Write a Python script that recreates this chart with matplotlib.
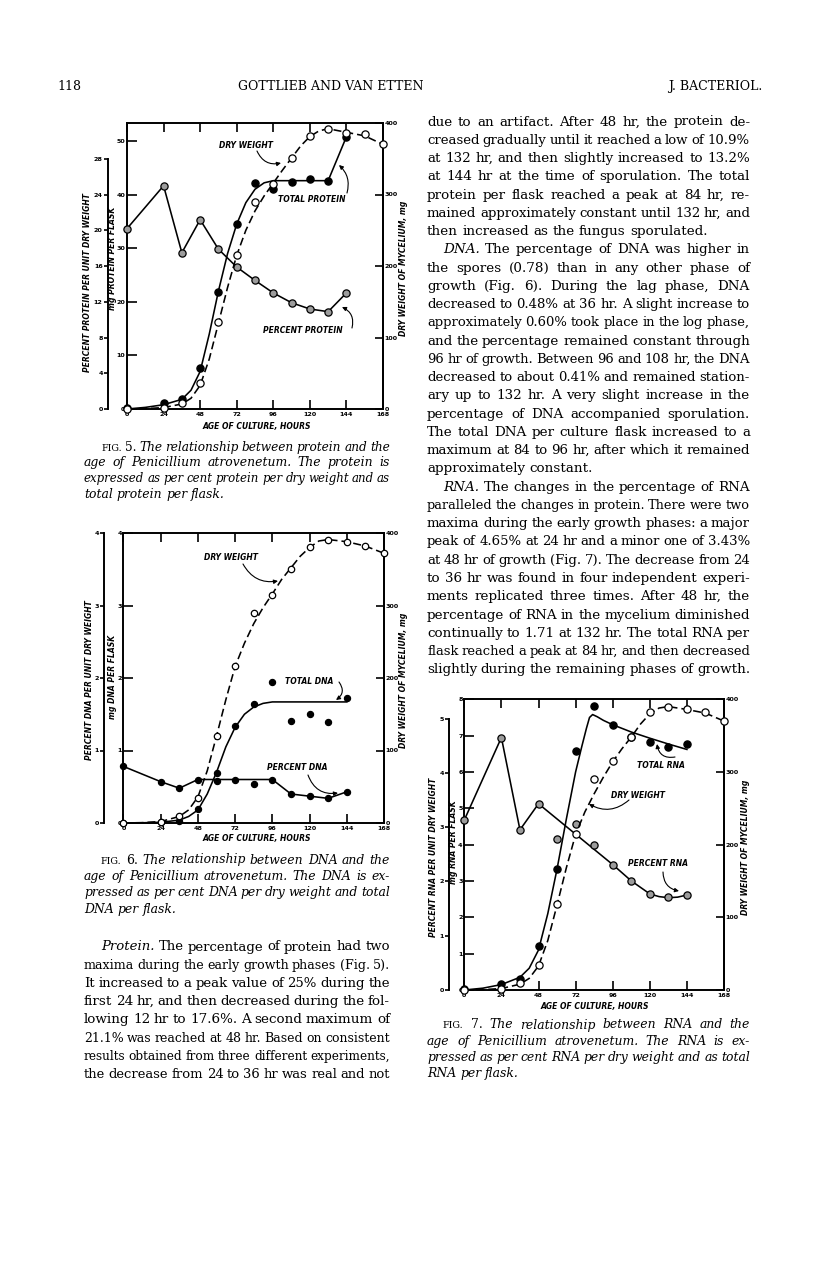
import matplotlib
matplotlib.use('Agg')
import matplotlib.pyplot as plt

W, H = 816, 1264
fig = plt.figure(figsize=(W / 100, H / 100), dpi=100)
fig.patch.set_facecolor('white')
renderer = fig.canvas.get_renderer()

SANS = 'DejaVu Sans'
SERIF = 'DejaVu Serif'

# ---------------------------------------------------------------- data
x_tick_hours = [0, 24, 48, 72, 96, 120, 144, 168]
hours = [0, 24, 36, 48, 60, 72, 84, 96, 108, 120, 132, 144]
dw_hours = [0, 24, 36, 48, 60, 72, 84, 96, 108, 120, 132, 144, 156, 168]
fit_hours = [0, 12, 24, 36, 42, 48, 54, 60, 66, 72, 78, 84, 90, 96, 102, 108,
             114, 120, 126, 132, 144, 156, 168]

# Fig. 5  protein
protein_pct = [20.2, 25.0, 17.5, 21.2, 17.9, 15.9, 14.4, 13.0, 11.9, 11.2, 10.9, 13.0]
protein_total = [0.2, 1.1, 1.9, 7.6, 21.8, 34.6, 42.1, 41.0, 42.3, 42.9, 42.6, 50.8]
protein_fit_hours = [0, 12, 24, 36, 42, 48, 54, 60, 66, 72, 78, 84, 90, 96, 108, 120, 132, 144]
protein_fit = [0, 0.3, 0.8, 1.8, 3.5, 7.0, 14.0, 22.0, 29.0, 34.5, 38.5, 41.0, 42.2,
               42.6, 42.6, 42.6, 42.6, 50.8]
dry_weight_5 = [0, 2, 8, 36, 121, 215, 290, 315, 351, 382, 392, 386, 384, 370]
dry_fit_5 = [0, 0.5, 2, 7, 15, 33, 70, 120, 170, 215, 250, 277, 298, 316, 334, 351,
             368, 381, 389, 392, 387, 382, 370]

# Fig. 6  DNA
dna_pct = [0.78, 0.57, 0.48, 0.59, 0.58, 0.60, 0.54, 0.60, 0.40, 0.37, 0.34, 0.43]
dna_pct_line_hours = [0, 24, 36, 48, 60, 72, 84, 96, 108, 120, 132, 144]
dna_pct_line = [0.78, 0.57, 0.48, 0.60, 0.60, 0.60, 0.60, 0.60, 0.40, 0.37, 0.34, 0.43]
dna_total = [0.0, 0.01, 0.03, 0.20, 0.69, 1.34, 1.64, 1.94, 1.41, 1.50, 1.39, 1.72]
dna_fit_hours = [0, 12, 24, 36, 42, 48, 54, 60, 66, 72, 78, 84, 90, 96, 144]
dna_fit = [0, 0.003, 0.01, 0.04, 0.09, 0.18, 0.40, 0.70, 1.05, 1.32, 1.50, 1.60,
           1.65, 1.67, 1.67]
dry_weight_6 = [0, 2, 10, 35, 120, 216, 290, 314, 350, 381, 391, 388, 382, 372]
dry_fit_6 = [0, 0.5, 2, 9, 18, 36, 72, 120, 170, 216, 248, 275, 297, 316, 336, 352,
             368, 380, 389, 391, 388, 382, 372]

# Fig. 7  RNA
rna_pct = [3.13, 4.65, 2.95, 3.43, 2.78, 3.05, 2.67, 2.31, 2.01, 1.76, 1.71, 1.75]
rna_pct_line_hours = [0, 24, 36, 48, 96, 108, 120, 126, 132, 138, 144]
rna_pct_line = [3.13, 4.65, 2.95, 3.43, 2.31, 2.01, 1.77, 1.72, 1.70, 1.71, 1.75]
rna_total = [0.03, 0.17, 0.31, 1.22, 3.33, 6.58, 7.81, 7.30, 6.95, 6.83, 6.69, 6.77]
rna_fit_hours = [0, 12, 24, 36, 42, 48, 54, 60, 66, 72, 76, 79, 81, 83, 86, 90, 96,
                 108, 120, 132, 144]
rna_fit = [0, 0.05, 0.15, 0.35, 0.6, 1.1, 2.1, 3.33, 4.7, 6.0, 6.7, 7.2, 7.5, 7.58,
           7.52, 7.42, 7.3, 7.1, 6.93, 6.77, 6.62]
dry_weight_7 = [0, 2, 10, 35, 119, 214, 290, 315, 348, 382, 390, 386, 382, 370]
dry_fit_7 = [0, 0.5, 2, 8, 16, 33, 68, 117, 168, 214, 245, 270, 293, 314, 332, 348,
             366, 380, 388, 390, 386, 381, 370]

# ---------------------------------------------------------------- helpers
def fx(x):
    return x / W


def fy(y):
    return 1 - y / H


LAB = dict(family=SANS, style='italic', weight='bold', size=5.5)
TICK_SIZE = 4.6
SPINE_LW = 1.4
LINE_LW = 1.15


def build_axes(L, R, T, B, inner_max, inner_ticks, pct_max, pct_ticks, pct_bound, outer_off):
    ax = fig.add_axes([fx(L), fy(B), (R - L) / W, (B - T) / H])
    ax.set_xlim(0, 168)
    ax.set_ylim(0, inner_max)
    ax.set_xticks(x_tick_hours)
    ax.set_yticks(inner_ticks)
    for s in ax.spines.values():
        s.set_linewidth(SPINE_LW)
    ax.tick_params(axis='x', direction='in', top=True, bottom=True, length=6.5,
                   width=1.2, pad=2.0, labelsize=TICK_SIZE)
    ax.tick_params(axis='y', direction='in', left=True, right=False, length=7,
                   width=1.2, pad=1.2, labelsize=TICK_SIZE)

    ax_p = ax.twinx()
    ax_p.set_ylim(0, pct_max)
    ax_p.yaxis.tick_left()
    ax_p.set_yticks(pct_ticks)
    ax_p.spines['left'].set_visible(True)
    ax_p.spines['left'].set_position(('outward', outer_off))
    ax_p.spines['left'].set_bounds(0, pct_bound)
    ax_p.spines['left'].set_linewidth(SPINE_LW)
    for k in ('right', 'top', 'bottom'):
        ax_p.spines[k].set_visible(False)
    ax_p.tick_params(axis='y', direction='out', length=3, width=1.2, pad=0.8,
                     labelsize=TICK_SIZE)

    ax_d = ax.twinx()
    ax_d.set_ylim(0, 400)
    ax_d.set_yticks([0, 100, 200, 300, 400])
    for k in ('left', 'top', 'bottom'):
        ax_d.spines[k].set_visible(False)
    ax_d.spines['right'].set_linewidth(SPINE_LW)
    ax_d.tick_params(axis='y', direction='in', length=6, width=1.2, pad=1.2,
                     labelsize=TICK_SIZE)

    for a in (ax, ax_p, ax_d):
        for lab in a.get_xticklabels() + a.get_yticklabels():
            lab.set_fontfamily(SANS)
            lab.set_fontweight('bold')
    return ax, ax_p, ax_d


def mark(a, xs, ys, kind, ms=5.2):
    if kind == 'open':
        fc = 'white'
    elif kind == 'gray':
        fc = '#9c9c9c'
    else:
        fc = 'black'
    a.plot(xs, ys, ls='none', marker='o', ms=ms, mfc=fc, mec='black', mew=0.9,
           clip_on=False, zorder=5)


def line(a, xs, ys, dashed=False):
    if dashed:
        a.plot(xs, ys, color='black', lw=LINE_LW, ls=(0, (5, 2.5)), clip_on=False, zorder=3)
    else:
        a.plot(xs, ys, color='black', lw=LINE_LW, clip_on=False, zorder=3)


def label(x, y, s, rot=0, **kw):
    d = dict(LAB)
    d.update(kw)
    fig.text(fx(x), fy(y), s, rotation=rot, ha='center', va='center', **d)


def arrow(sx, sy, tx, ty, rad):
    fig.add_artist(matplotlib.patches.FancyArrowPatch(
        (sx, H - sy), (tx, H - ty), transform=None,
        arrowstyle='-|>', connectionstyle='arc3,rad=%s' % rad,
        mutation_scale=6, lw=0.8, color='black', shrinkA=0, shrinkB=0))


def text_width(s, props):
    t = fig.text(0, 0, s, **props)
    w = t.get_window_extent(renderer).width
    t.remove()
    return w


def draw_line(line_s, x0, x1, ybase, base, justify=True):
    scale = 1.0
    while True:
        toks = []
        for w in line_s.split(' '):
            st = dict(base)
            st['size'] = base['size'] * scale
            if w.startswith('*'):
                w = w[1:]
                st['style'] = 'italic'
            elif w.startswith('~'):
                w = w[1:]
                st['style'] = 'normal'
            elif w.startswith('^'):
                w = w[1:]
                st['style'] = 'normal'
                st['size'] = base['size'] * scale * 0.78
            toks.append((w, st))
        widths = [text_width(w, st) for w, st in toks]
        b2 = dict(base)
        b2['size'] = base['size'] * scale
        space = text_width('n n', b2) - text_width('nn', b2)
        n = len(toks)
        need = sum(widths) + 0.75 * space * (n - 1)
        if need <= (x1 - x0) or scale < 0.8:
            break
        scale *= 0.985
    if justify and n > 1:
        gap = (x1 - x0 - sum(widths)) / (n - 1)
    else:
        gap = space
    x = x0
    for (w, st), wd in zip(toks, widths):
        fig.text(fx(x), fy(ybase), w, ha='left', va='baseline', **st)
        x += wd + gap


def paragraph(lines, x0, x1, y0, dy, base, indent_first=0, last_justify=False):
    for i, s in enumerate(lines):
        xs = x0 + (indent_first if i == 0 else 0)
        draw_line(s, xs, x1, y0 + i * dy, base,
                  justify=(i < len(lines) - 1) or last_justify)


# ---------------------------------------------------------------- Fig. 5
ax, ax_p, ax_d = build_axes(127, 383, 123, 409, 53.36, [0, 10, 20, 30, 40, 50],
                            32.03, [0, 4, 8, 12, 16, 20, 24, 28], 28, 13.7)
line(ax_p, hours, protein_pct)
mark(ax_p, hours, protein_pct, 'gray')
line(ax, protein_fit_hours, protein_fit)
mark(ax, hours, protein_total, 'black')
line(ax_d, fit_hours, dry_fit_5, dashed=True)
mark(ax_d, dw_hours, dry_weight_5, 'open')

label(246, 145, 'DRY WEIGHT')
arrow(257, 151, 281, 163, 0.4)
label(312, 199, 'TOTAL PROTEIN')
arrow(347, 193, 339, 165, 0.3)
label(303, 330, 'PERCENT PROTEIN')
arrow(352, 328, 342, 307, 0.4)
label(88, 282, 'PERCENT PROTEIN PER UNIT DRY WEIGHT', rot=90)
label(112.5, 258, 'mg PROTEIN PER FLASK', rot=90)
label(403.5, 268, 'DRY WEIGHT OF MYCELIUM, mg', rot=90)
label(257, 426, 'AGE OF CULTURE, HOURS')

# ---------------------------------------------------------------- Fig. 6
ax, ax_p, ax_d = build_axes(123.5, 384, 533, 823, 4, [0, 1, 2, 3, 4],
                            4, [0, 1, 2, 3, 4], 4, 14)
line(ax_p, dna_pct_line_hours, dna_pct_line)
mark(ax_p, hours, dna_pct, 'black', ms=4.4)
line(ax, dna_fit_hours, dna_fit)
mark(ax, hours, dna_total, 'black', ms=4.4)
line(ax_d, fit_hours, dry_fit_6, dashed=True)
mark(ax_d, dw_hours, dry_weight_6, 'open', ms=4.6)

label(231, 558, 'DRY WEIGHT')
arrow(243, 564, 278, 581, 0.35)
label(309, 681, 'TOTAL DNA')
arrow(339, 682, 336, 700, -0.5)
label(297, 767, 'PERCENT DNA')
arrow(308, 775, 338, 793, 0.4)
label(89, 680, 'PERCENT DNA PER UNIT DRY WEIGHT', rot=90)
label(112, 677, 'mg DNA PER FLASK', rot=90)
label(403.5, 680, 'DRY WEIGHT OF MYCELIUM, mg', rot=90)
label(257, 838, 'AGE OF CULTURE, HOURS')

# ---------------------------------------------------------------- Fig. 7
ax, ax_p, ax_d = build_axes(464.3, 724, 699.3, 990, 8, [0, 1, 2, 3, 4, 5, 6, 7, 8],
                            5.354, [0, 1, 2, 3, 4, 5], 5, 11)
line(ax_p, rna_pct_line_hours, rna_pct_line)
mark(ax_p, hours, rna_pct, 'gray')
line(ax, rna_fit_hours, rna_fit)
mark(ax, hours, rna_total, 'black')
line(ax_d, fit_hours, dry_fit_7, dashed=True)
mark(ax_d, dw_hours, dry_weight_7, 'open')

label(661, 766, 'TOTAL RNA')
arrow(675, 757, 657, 744, -0.5)
label(638, 795, 'DRY WEIGHT')
arrow(629, 800, 589, 804, -0.35)
label(658, 863, 'PERCENT RNA')
arrow(663, 872, 679, 891, 0.4)
label(433, 857, 'PERCENT RNA PER UNIT DRY WEIGHT', rot=90)
label(453, 842, 'mg RNA PER FLASK', rot=90)
label(746, 847, 'DRY WEIGHT OF MYCELIUM, mg', rot=90)
label(595, 1006, 'AGE OF CULTURE, HOURS')

# ---------------------------------------------------------------- text
BODY = dict(family=SERIF, size=9.7, style='normal')
CAP = dict(family=SERIF, size=8.9, style='italic')
HEAD = dict(family=SERIF, size=9.0)

fig.text(fx(57), fy(90), '118', ha='left', va='baseline', **HEAD)
fig.text(fx(331), fy(90), 'GOTTLIEB AND VAN ETTEN', ha='center', va='baseline', **HEAD)
fig.text(fx(762), fy(90), 'J. BACTERIOL.', ha='right', va='baseline', **HEAD)

cap5 = ["^FIG. ~5. The relationship between protein and the",
        "age of Penicillium atrovenetum. The protein is",
        "expressed as per cent protein per dry weight and as",
        "total protein per flask."]
paragraph(cap5, 84, 390, 450.5, 15.8, CAP, indent_first=17)

cap6 = ["^FIG. ~6. The relationship between DNA and the",
        "age of Penicillium atrovenetum. The DNA is ex-",
        "pressed as per cent DNA per dry weight and total",
        "DNA per flask."]
paragraph(cap6, 84, 390, 863.5, 16.4, CAP, indent_first=17)

cap7 = ["^FIG. ~7. The relationship between RNA and the",
        "age of Penicillium atrovenetum. The RNA is ex-",
        "pressed as per cent RNA per dry weight and as total",
        "RNA per flask."]
paragraph(cap7, 427, 750, 1028.5, 16.1, CAP, indent_first=16)

protein_par = ["*Protein. The percentage of protein had two",
               "maxima during the early growth phases (Fig. 5).",
               "It increased to a peak value of 25% during the",
               "first 24 hr, and then decreased during the fol-",
               "lowing 12 hr to 17.6%. A second maximum of",
               "21.1% was reached at 48 hr. Based on consistent",
               "results obtained from three different experiments,",
               "the decrease from 24 to 36 hr was real and not"]
paragraph(protein_par, 84, 390, 950.5, 18.2, BODY, indent_first=17, last_justify=True)

right1 = ["due to an artifact. After 48 hr, the protein de-",
          "creased gradually until it reached a low of 10.9%",
          "at 132 hr, and then slightly increased to 13.2%",
          "at 144 hr at the time of sporulation. The total",
          "protein per flask reached a peak at 84 hr, re-",
          "mained approximately constant until 132 hr, and",
          "then increased as the fungus sporulated."]
right2 = ["*DNA. The percentage of DNA was higher in",
          "the spores (0.78) than in any other phase of",
          "growth (Fig. 6). During the lag phase, DNA",
          "decreased to 0.48% at 36 hr. A slight increase to",
          "approximately 0.60% took place in the log phase,",
          "and the percentage remained constant through",
          "96 hr of growth. Between 96 and 108 hr, the DNA",
          "decreased to about 0.41% and remained station-",
          "ary up to 132 hr. A very slight increase in the",
          "percentage of DNA accompanied sporulation.",
          "The total DNA per culture flask increased to a",
          "maximum at 84 to 96 hr, after which it remained",
          "approximately constant."]
right3 = ["*RNA. The changes in the percentage of RNA",
          "paralleled the changes in protein. There were two",
          "maxima during the early growth phases: a major",
          "peak of 4.65% at 24 hr and a minor one of 3.43%",
          "at 48 hr of growth (Fig. 7). The decrease from 24",
          "to 36 hr was found in four independent experi-",
          "ments replicated three times. After 48 hr, the",
          "percentage of RNA in the mycelium diminished",
          "continually to 1.71 at 132 hr. The total RNA per",
          "flask reached a peak at 84 hr, and then decreased",
          "slightly during the remaining phases of growth."]
DY = 18.26
y0 = 125.5
paragraph(right1, 427, 750, y0, DY, BODY)
paragraph(right2, 427, 750, y0 + 7 * DY, DY, BODY, indent_first=16)
paragraph(right3, 427, 750, y0 + 20 * DY, DY, BODY, indent_first=16, last_justify=True)

fig.savefig('out.png', dpi=100, facecolor='white')
